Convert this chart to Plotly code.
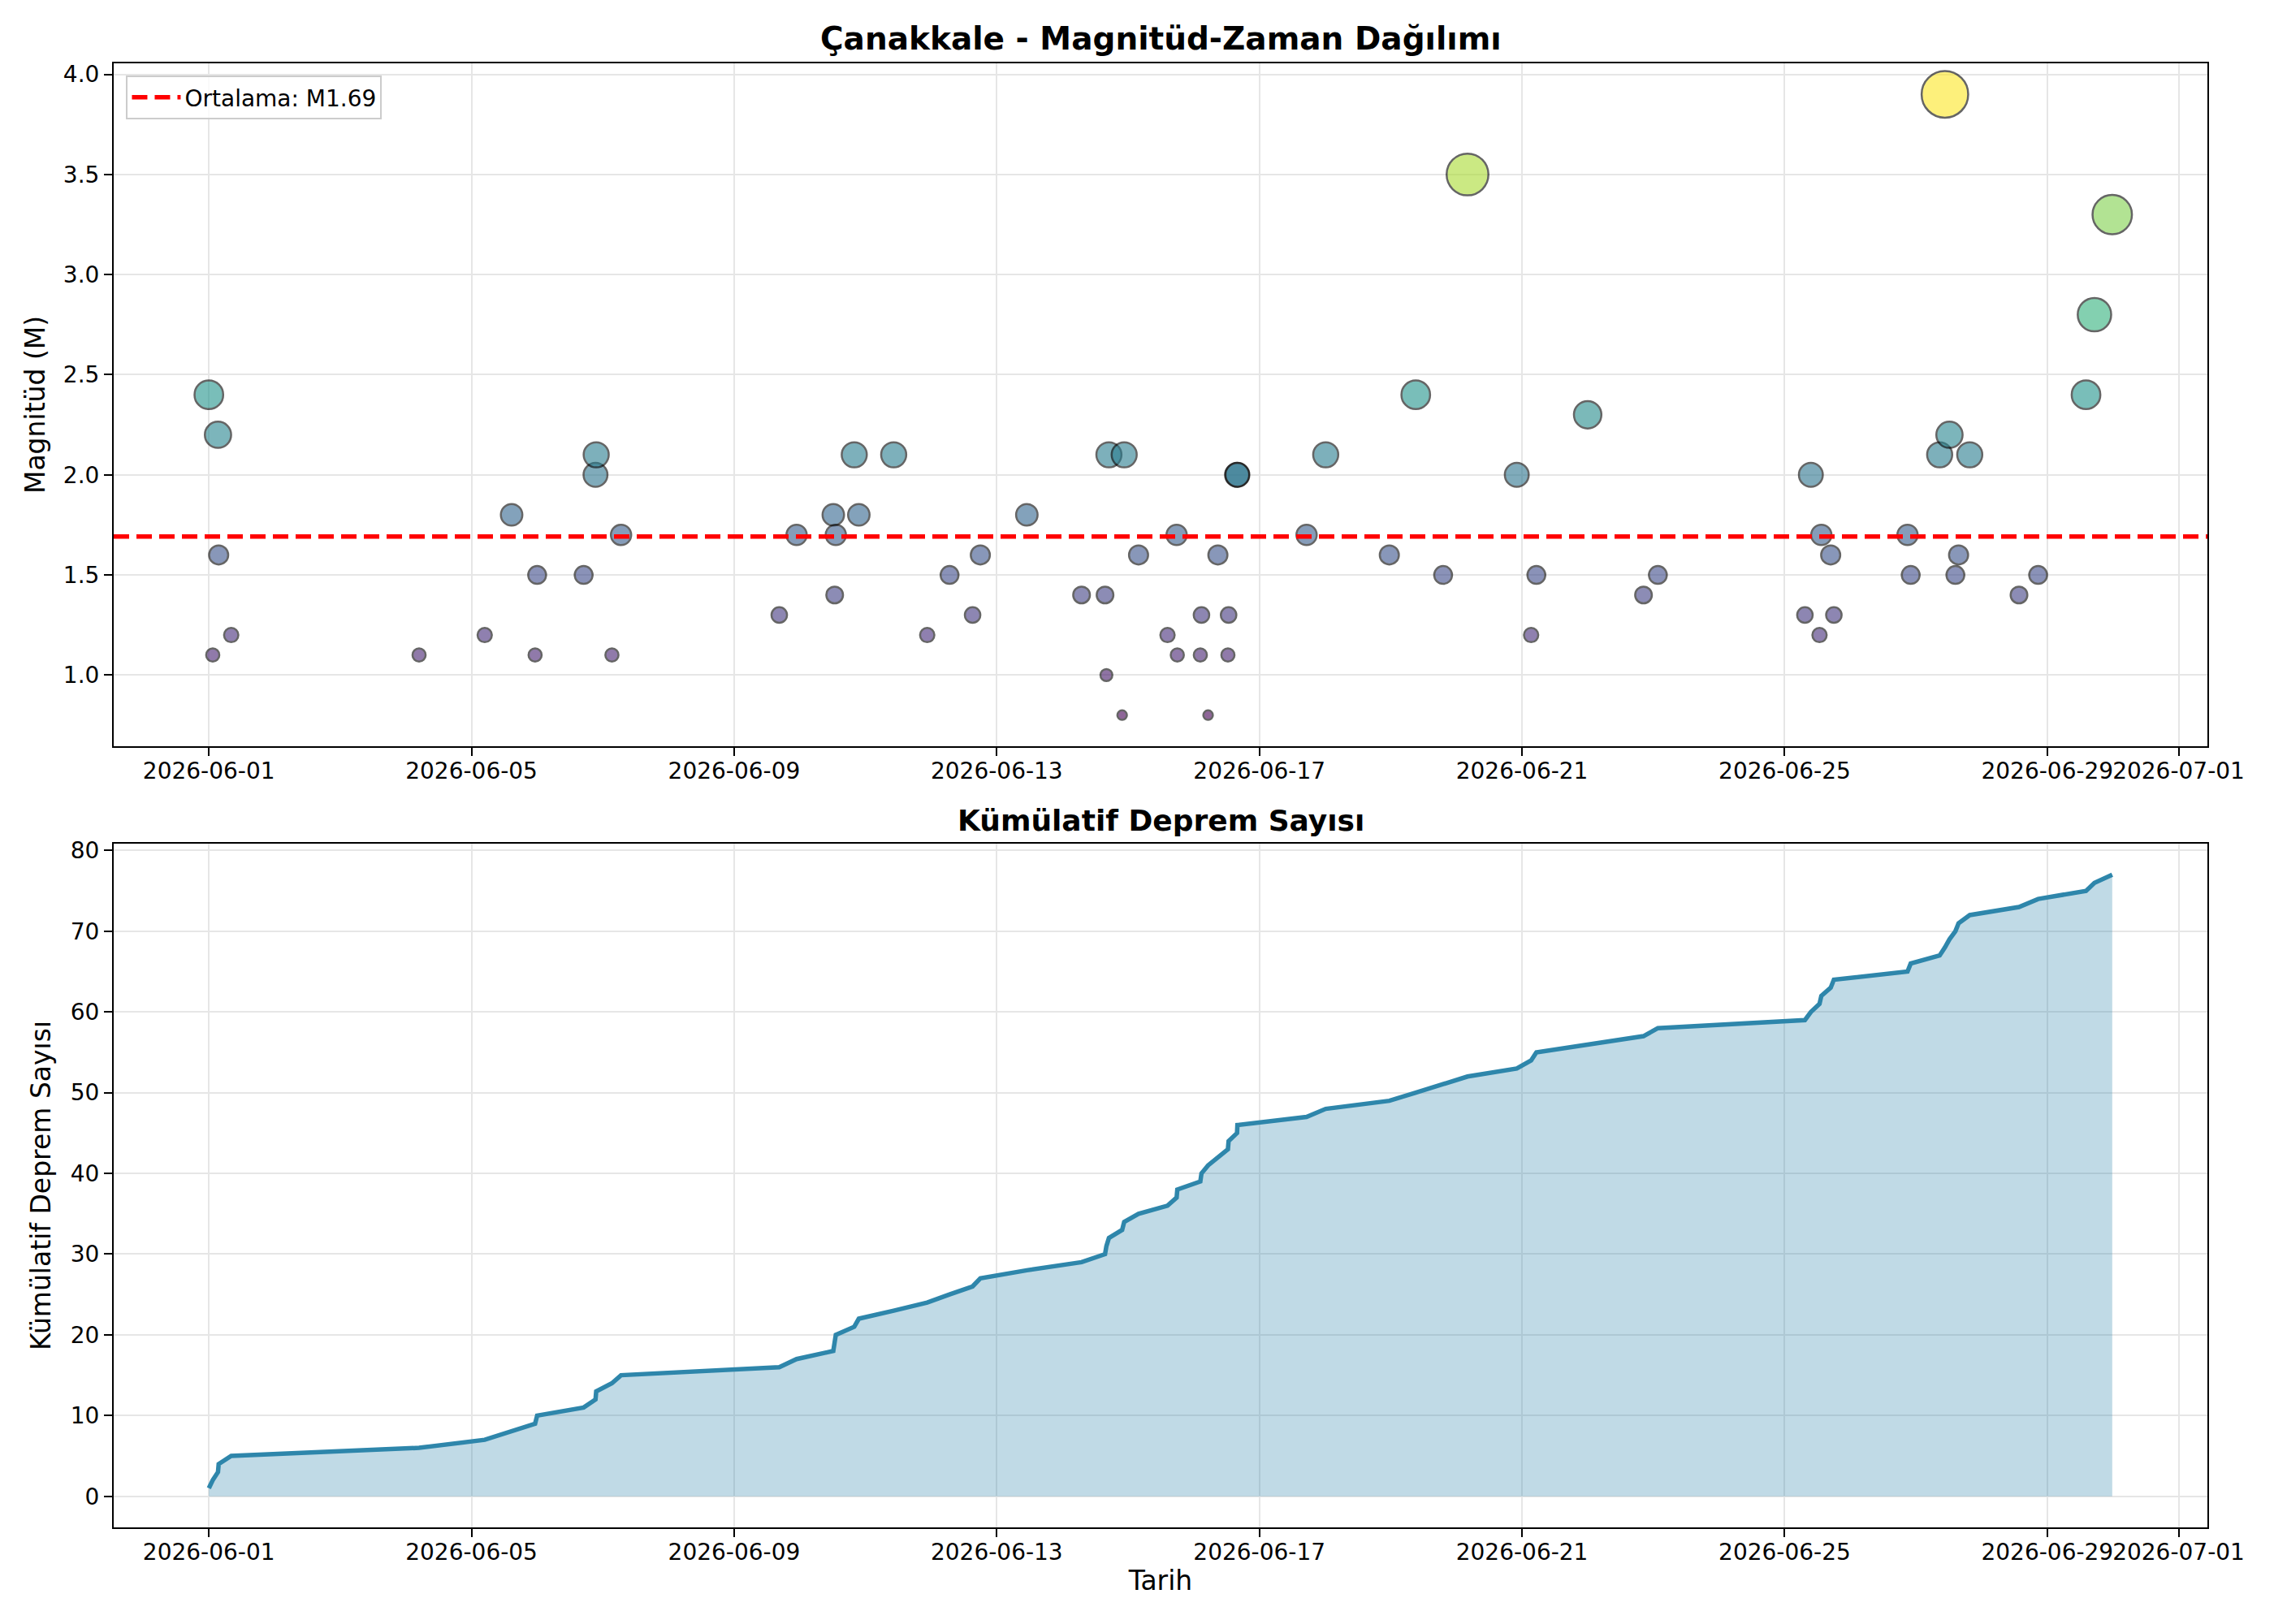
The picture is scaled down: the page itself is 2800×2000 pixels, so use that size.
import pandas as pd
import plotly.graph_objects as go

# deprem zamanlari ve magnitudleri
times = [
    "2026-06-01 00:00", "2026-06-01 01:25", "2026-06-01 03:20", "2026-06-01 03:35", "2026-06-01 08:10",
    "2026-06-04 04:50", "2026-06-05 04:50", "2026-06-05 14:40", "2026-06-05 23:15", "2026-06-06 00:00",
    "2026-06-06 17:00", "2026-06-06 21:20", "2026-06-06 21:35", "2026-06-07 03:20", "2026-06-07 06:40",
    "2026-06-09 16:30", "2026-06-09 22:50", "2026-06-10 12:15", "2026-06-10 12:45", "2026-06-10 13:10",
    "2026-06-10 19:55", "2026-06-10 21:35", "2026-06-11 10:20", "2026-06-11 22:35", "2026-06-12 06:45",
    "2026-06-12 15:10", "2026-06-12 18:00", "2026-06-13 11:00", "2026-06-14 07:00", "2026-06-14 15:35",
    "2026-06-14 16:05", "2026-06-14 17:00", "2026-06-14 21:50", "2026-06-14 22:35", "2026-06-15 03:50",
    "2026-06-15 14:25", "2026-06-15 17:45", "2026-06-15 18:00", "2026-06-16 02:25", "2026-06-16 02:50",
    "2026-06-16 05:15", "2026-06-16 08:50", "2026-06-16 12:30", "2026-06-16 12:45", "2026-06-16 15:50",
    "2026-06-16 15:58", "2026-06-17 17:15", "2026-06-18 00:15", "2026-06-18 23:30", "2026-06-19 09:10",
    "2026-06-19 19:10", "2026-06-20 04:05", "2026-06-20 22:05", "2026-06-21 03:20", "2026-06-21 05:15",
    "2026-06-22 00:00", "2026-06-22 20:25", "2026-06-23 01:40", "2026-06-25 07:25", "2026-06-25 09:35",
    "2026-06-25 12:45", "2026-06-25 13:25", "2026-06-25 16:50", "2026-06-25 18:00", "2026-06-26 20:55",
    "2026-06-26 22:05", "2026-06-27 08:40", "2026-06-27 10:35", "2026-06-27 12:15", "2026-06-27 14:25",
    "2026-06-27 15:35", "2026-06-27 19:40", "2026-06-28 13:40", "2026-06-28 20:40", "2026-06-29 14:10",
    "2026-06-29 17:15", "2026-06-29 23:45",
]
magnitudes = [
    2.4, 1.1, 2.2, 1.6, 1.2,
    1.1, 1.2, 1.8, 1.1, 1.5,
    1.5, 2.0, 2.1, 1.1, 1.7,
    1.3, 1.7, 1.8, 1.4, 1.7,
    2.1, 1.8, 2.1, 1.2, 1.5,
    1.3, 1.6, 1.8, 1.4, 1.4,
    1.0, 2.1, 0.8, 2.1, 1.6,
    1.2, 1.7, 1.1, 1.1, 1.3,
    0.8, 1.6, 1.1, 1.3, 2.0,
    2.0, 1.7, 2.1, 1.6, 2.4,
    1.5, 3.5, 2.0, 1.2, 1.5,
    2.3, 1.4, 1.5, 1.3, 2.0,
    1.2, 1.7, 1.6, 1.3, 1.7,
    1.5, 2.1, 3.9, 2.2, 1.5,
    1.6, 2.1, 1.4, 1.5, 2.4,
    2.8, 3.3,
]
date_ticks = ["2026-06-01", "2026-06-05", "2026-06-09", "2026-06-13", "2026-06-17",
              "2026-06-21", "2026-06-25", "2026-06-29", "2026-07-01"]
mag_ticks = [1.0, 1.5, 2.0, 2.5, 3.0, 3.5, 4.0]
count_ticks = [0, 10, 20, 30, 40, 50, 60, 70, 80]

df = pd.DataFrame({"Tarih": pd.to_datetime(times), "Magnitud": magnitudes})
df = df.sort_values("Tarih").reset_index(drop=True)
df["Kumulatif"] = range(1, len(df) + 1)
mean_mag = df["Magnitud"].mean()

FONT = "DejaVu Sans"
# matplotlib gibi %5 kenar payi (dolgu 0'i da kapsiyor)
span = df["Tarih"].max() - df["Tarih"].min()
x_range = [df["Tarih"].min() - 0.05 * span, df["Tarih"].max() + 0.05 * span]
mspan = df["Magnitud"].max() - df["Magnitud"].min()
y1_range = [df["Magnitud"].min() - 0.05 * mspan, df["Magnitud"].max() + 0.05 * mspan]
n = len(df)
y2_range = [-0.05 * n, n * 1.05]

fig = go.Figure()

fig.add_trace(go.Scatter(
    x=df["Tarih"], y=df["Magnitud"], mode="markers", showlegend=False,
    marker=dict(size=df["Magnitud"] * 14.7, color=df["Magnitud"], colorscale="Viridis",
                cmin=df["Magnitud"].min(), cmax=df["Magnitud"].max(), opacity=0.6,
                line=dict(color="black", width=2.5)),
    xaxis="x", yaxis="y",
))
fig.add_trace(go.Scatter(
    x=x_range, y=[mean_mag, mean_mag], mode="lines",
    name=f"Ortalama: M{mean_mag:.2f}",
    line=dict(color="red", width=5.5, dash="19px,9px"),
    xaxis="x", yaxis="y",
))
fig.add_trace(go.Scatter(
    x=df["Tarih"], y=df["Kumulatif"], mode="lines", fill="tozeroy",
    fillcolor="rgba(46,134,171,0.3)", line=dict(color="#2E86AB", width=5.5),
    showlegend=False, xaxis="x2", yaxis="y2",
))

axis_common = dict(
    showline=True, mirror=True, linecolor="black", linewidth=2,
    ticks="outside", ticklen=10, tickwidth=2, tickcolor="black",
    showgrid=True, gridcolor="#e6e6e6", gridwidth=2, zeroline=False,
    tickfont=dict(family=FONT, size=28, color="black"),
)
xaxis_common = dict(axis_common, type="date", range=x_range, tickvals=date_ticks,
                    ticktext=date_ticks, tickangle=0, ticklabelstandoff=-6)

fig.update_layout(
    width=2800, height=2000,
    margin=dict(l=132, r=90, t=70, b=127),
    paper_bgcolor="white", plot_bgcolor="white",
    font=dict(family=FONT, color="black"),
    xaxis=dict(xaxis_common, anchor="y", domain=[0, 1]),
    yaxis=dict(axis_common, anchor="x", domain=[0.5336, 1], range=y1_range,
               tickvals=mag_ticks, tickformat=".1f",
               title=dict(text="Magnitüd (M)", font=dict(size=33), standoff=12)),
    xaxis2=dict(xaxis_common, anchor="y2", domain=[0, 1],
                title=dict(text="Tarih", font=dict(size=33), standoff=8)),
    yaxis2=dict(axis_common, anchor="x2", domain=[0, 0.467], range=y2_range,
                tickvals=count_ticks,
                title=dict(text="Kümülatif Deprem Sayısı", font=dict(size=33), standoff=14)),
    legend=dict(x=0.006, y=0.9917, xanchor="left", yanchor="top", itemwidth=60,
                bgcolor="rgba(255,255,255,0.8)", bordercolor="#cccccc", borderwidth=2,
                font=dict(family=FONT, size=28)),
    annotations=[
        dict(text="<b>Çanakkale - Magnitüd-Zaman Dağılımı</b>", xref="paper", yref="paper",
             x=0.5, y=1, xanchor="center", yanchor="bottom", yshift=6, showarrow=False,
             font=dict(family=FONT, size=39)),
        dict(text="<b>Kümülatif Deprem Sayısı</b>", xref="paper", yref="paper",
             x=0.5, y=0.467, xanchor="center", yanchor="bottom", yshift=6, showarrow=False,
             font=dict(family=FONT, size=36)),
    ],
)

fig.write_html("out.html")
